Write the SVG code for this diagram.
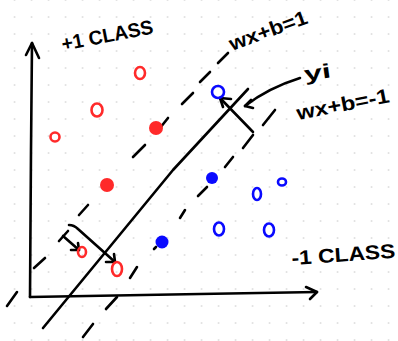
<svg xmlns="http://www.w3.org/2000/svg" width="398" height="341" viewBox="0 0 398 341">
<defs>
<pattern id="grid" x="-1.7" y="0" width="17" height="17" patternUnits="userSpaceOnUse">
<path d="M15.5,0 h2 M17,-1 v2 M15.5,17 h2 M17,16 v2" stroke="#c8c8c8" stroke-width="0.8"/>
</pattern>
<style>
.ln{fill:none;stroke:#000;stroke-width:2.6;stroke-linecap:round;stroke-linejoin:round}
.rh{fill:none;stroke:#ff2a2a;stroke-width:2.6}
.rf{fill:#ff2a2a;stroke:none}
.bh{fill:none;stroke:#0a0aff;stroke-width:2.6}
.bf{fill:#0a0aff;stroke:none}
.lbl{font-family:"Liberation Sans",Arial,sans-serif;font-size:20px;font-weight:bold;fill:#000}
</style>
</defs>
<rect width="398" height="341" fill="#fff"/>
<rect width="398" height="341" fill="url(#grid)"/>
<g id="connectors">
<g id="axes">
<path class="ln" d="M32,43 L31,150 L30,297"/>
<path class="ln" d="M26,55 L32,43 L39,58"/>
<path class="ln" d="M30,297 L200,294 L317,292"/>
<path class="ln" d="M306,287 L317,292 L310,299"/>
</g>
<path id="hyperplane" class="ln" d="M43,328 L173,170 L248,89"/>
<g id="margin-plus">
<path class="ln" d="M7,306 L17,292 M34,268 L45,258 M79,215 L88,205 M133,157 L145,145 M160,128 L168,118 M182,104 L193,93 M200,82 L210,72 M218,63 L228,53"/>
</g>
<g id="margin-minus">
<path class="ln" d="M83,337 L93,324 M106,309 L117,297 M130,278 L137,267 M154,249 L156,247 M180,218 L185,210 M198,196 L207,187 M225,167 L233,157 M243,148 L253,135 M263,125 L275,110"/>
</g>
<g id="perp-arrow">
<path class="ln" d="M253,132 L220,98"/>
<path class="ln" d="M231,99 L220,98 L223,107"/>
</g>
<g id="label-arrow">
<path class="ln" d="M300,78 Q268,88 245,106"/>
<path class="ln" d="M251,100 L245,106 L253,108"/>
</g>
<g id="dist-arrow-1">
<path class="ln" d="M59,241 L68,231"/>
<path class="ln" d="M63,236 L79,250"/>
<path class="ln" d="M71,250 L79,250 L78,243"/>
</g>
<g id="dist-arrow-2">
<path class="ln" d="M69,225 Q74,225 78,229 L115,262"/>
<path class="ln" d="M106,262 L115,262 L114,254"/>
</g>
</g>
<g id="pos-1"><ellipse class="rh" cx="140" cy="73" rx="5" ry="6"/></g>
<g id="pos-2"><ellipse class="rh" cx="97" cy="110" rx="5.5" ry="6.5"/></g>
<g id="pos-3"><ellipse class="rh" cx="55" cy="137" rx="4.5" ry="4.5"/></g>
<g id="pos-sv-1"><circle class="rf" cx="156" cy="128" r="7"/></g>
<g id="pos-sv-2"><circle class="rf" cx="107" cy="185" r="7"/></g>
<g id="pos-4"><ellipse class="rh" cx="82" cy="252" rx="4" ry="5"/></g>
<g id="pos-5"><ellipse class="rh" cx="117" cy="269" rx="5" ry="7"/></g>
<g id="neg-1"><circle class="bh" cx="218" cy="92" r="6"/></g>
<g id="neg-sv-1"><circle class="bf" cx="212" cy="178" r="6"/></g>
<g id="neg-sv-2"><circle class="bf" cx="162" cy="242" r="6.5"/></g>
<g id="neg-2"><ellipse class="bh" cx="257" cy="194" rx="4" ry="6"/></g>
<g id="neg-3"><ellipse class="bh" cx="282" cy="182" rx="4" ry="3.5"/></g>
<g id="neg-4"><ellipse class="bh" cx="219" cy="229" rx="5" ry="6.5"/></g>
<g id="neg-5"><ellipse class="bh" cx="269" cy="230" rx="5" ry="6.5"/></g>
<g id="labels">
<text class="lbl" transform="translate(63,51) rotate(-11)" textLength="93" lengthAdjust="spacingAndGlyphs">+1 CLASS</text>
<text class="lbl" transform="translate(232,51) rotate(-20)" textLength="82" lengthAdjust="spacingAndGlyphs">wx+b=1</text>
<text class="lbl" transform="translate(305,81) rotate(-8)" textLength="27" lengthAdjust="spacingAndGlyphs">yi</text>
<text class="lbl" transform="translate(298,120) rotate(-11)" textLength="94" lengthAdjust="spacingAndGlyphs">wx+b=-1</text>
<text class="lbl" transform="translate(292,265) rotate(-4)" textLength="104" lengthAdjust="spacingAndGlyphs">-1 CLASS</text>
</g>
</svg>
